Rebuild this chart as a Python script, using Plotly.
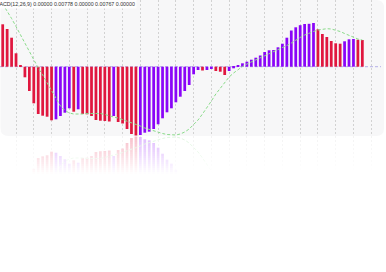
import plotly.graph_objects as go

# MACD histogram values (per bar)
hist = [0.00424, 0.00377, 0.00290, 0.00134, 0.00017, -0.00106, -0.00243, -0.00366, -0.00473, -0.00490,
        -0.00500, -0.00536, -0.00526, -0.00493, -0.00460, -0.00416, -0.00450, -0.00426, -0.00473, -0.00476,
        -0.00493, -0.00533, -0.00540, -0.00543, -0.00548, -0.00493, -0.00553, -0.00568, -0.00623, -0.00673,
        -0.00688, -0.00683, -0.00660, -0.00650, -0.00623, -0.00576, -0.00516, -0.00456, -0.00416, -0.00356,
        -0.00300, -0.00243, -0.00183, -0.00076, -0.00033, -0.00038, -0.00033, -0.00023, -0.00043, -0.00050,
        -0.00083, -0.00043, -0.00016, 0.00017, 0.00034, 0.00050, 0.00070, 0.00090, 0.00112, 0.00147,
        0.00164, 0.00167, 0.00194, 0.00230, 0.00290, 0.00362, 0.00394, 0.00415, 0.00427, 0.00429,
        0.00437, 0.00374, 0.00327, 0.00297, 0.00257, 0.00234, 0.00230, 0.00254, 0.00274, 0.00277,
        0.00270, 0.00267]

# Signal line values (per bar)
signal = [0.00627, 0.00557, 0.00482, 0.00402, 0.00317, 0.00232, 0.00147, 0.00067, -0.00013, -0.00083,
          -0.00163, -0.00243, -0.00323, -0.00393, -0.00438, -0.00463, -0.00473, -0.00476, -0.00473, -0.00468,
          -0.00466, -0.00466, -0.00468, -0.00478, -0.00493, -0.00503, -0.00513, -0.00528, -0.00543, -0.00563,
          -0.00578, -0.00593, -0.00613, -0.00628, -0.00643, -0.00658, -0.00668, -0.00678, -0.00683, -0.00683,
          -0.00673, -0.00653, -0.00623, -0.00583, -0.00533, -0.00473, -0.00413, -0.00343, -0.00273, -0.00213,
          -0.00153, -0.00103, -0.00063, -0.00028, 0.00002, 0.00027, 0.00047, 0.00067, 0.00087, 0.00107,
          0.00127, 0.00147, 0.00167, 0.00187, 0.00212, 0.00237, 0.00267, 0.00292, 0.00317, 0.00337,
          0.00352, 0.00367, 0.00377, 0.00380, 0.00377, 0.00367, 0.00352, 0.00332, 0.00312, 0.00292,
          0.00277, 0.00267]

title_text = "MACD(12,26,9) 0.00000 0.00778 0.00000 0.00767 0.00000"

RED = "#E0173F"
PURPLE = "#8A05F8"
GREEN = "#8ADB8A"

idx = list(range(len(hist)))
colors = [RED if i == 0 or hist[i] < hist[i - 1] else PURPLE for i in idx]

W, H = 386, 272
X_RANGE = [-0.61, 86.33]
Y_RANGE = [-0.00693, 0.00667]

fig = go.Figure()
# main
fig.add_bar(x=idx, y=hist, marker_color=colors, marker_line_width=0, width=0.62,
            xaxis="x", yaxis="y", showlegend=False)
fig.add_scatter(x=idx, y=signal, mode="lines", line=dict(color=GREEN, width=1, dash="3px,2px"),
                xaxis="x", yaxis="y", showlegend=False)
# reflection
fig.add_bar(x=idx, y=hist, marker_color=colors, marker_line_width=0, width=0.62,
            xaxis="x", yaxis="y2", showlegend=False)
fig.add_scatter(x=idx, y=signal, mode="lines", line=dict(color=GREEN, width=1, dash="3px,2px"),
                xaxis="x", yaxis="y2", showlegend=False)

shapes = []
# rounded background panel
x0, x1 = 0.5 / W, 384 / W
y0, y1 = 0.5, 1.0
rx, ry = 8 / W, 8 / H
path = (f"M {x0+rx},{y1} L {x1-rx},{y1} Q {x1},{y1} {x1},{y1-ry} L {x1},{y0+ry} "
        f"Q {x1},{y0} {x1-rx},{y0} L {x0+rx},{y0} Q {x0},{y0} {x0},{y0+ry} "
        f"L {x0},{y1-ry} Q {x0},{y1} {x0+rx},{y1} Z")
shapes.append(dict(type="path", xref="paper", yref="paper", path=path,
                   fillcolor="#F7F7F8", line=dict(width=0), layer="below"))
# dashed zero line
shapes.append(dict(type="line", xref="paper", yref="y", x0=0, x1=381 / W, y0=0, y1=0,
                   line=dict(color="#B6B0E6", width=1, dash="3px,2px"), layer="below"))
# fade for reflection
top = 136
fade = 38
step = 2
for s in range(0, fade, step):
    mid = s + step / 2
    a = 1 - 0.28 * (1 - mid / fade)
    shapes.append(dict(type="rect", xref="paper", yref="paper", x0=0, x1=1,
                       y0=1 - (top + s + step) / H, y1=1 - (top + s) / H,
                       fillcolor="white", opacity=a, line=dict(width=0), layer="above"))
shapes.append(dict(type="rect", xref="paper", yref="paper", x0=0, x1=1,
                   y0=0, y1=1 - (top + fade) / H,
                   fillcolor="white", opacity=1, line=dict(width=0), layer="above"))

fig.update_layout(
    width=W, height=H,
    margin=dict(l=0, r=0, t=0, b=0),
    paper_bgcolor="white", plot_bgcolor="rgba(0,0,0,0)",
    barmode="overlay",
    xaxis=dict(range=X_RANGE, showticklabels=False, ticks="", zeroline=False, showline=False,
               showgrid=True, gridcolor="#D2D2D2", gridwidth=1, griddash="2px,2px",
               tick0=3, dtick=4, anchor="y"),
    yaxis=dict(domain=[0.5, 1], range=Y_RANGE, showgrid=False, zeroline=False,
               showticklabels=False, ticks="", showline=False),
    yaxis2=dict(domain=[0, 0.5], range=[Y_RANGE[1], Y_RANGE[0]], showgrid=False, zeroline=False,
                showticklabels=False, ticks="", showline=False, anchor="x"),
    shapes=shapes,
    annotations=[dict(text=title_text, xref="paper", yref="paper", x=-7 / W, y=1 - 4.3 / H,
                      xanchor="left", yanchor="middle", showarrow=False,
                      font=dict(family="Liberation Sans", size=5.3, color="#333333"),
                      bgcolor="rgba(255,255,255,0.85)", borderpad=1)],
)

fig.write_html("out.html")
